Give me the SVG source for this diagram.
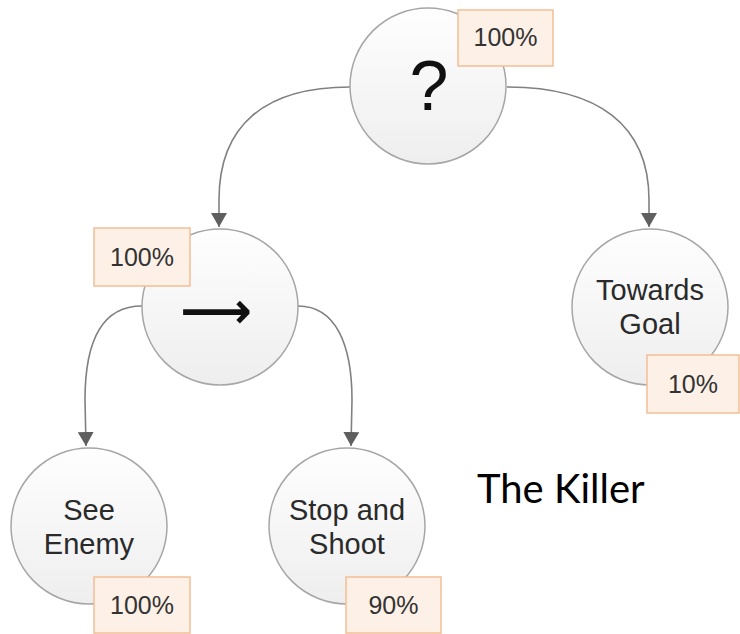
<svg xmlns="http://www.w3.org/2000/svg" width="740" height="634" viewBox="0 0 740 634">
<style>
.node{fill:url(#g);stroke:#a6a6a6;stroke-width:1.5}
.lbl{fill:#fdf0e6;stroke:#f3bf95;stroke-width:1.5}
.t{font-family:"Liberation Sans",Arial,sans-serif;font-size:29px;fill:#2a2a2a;text-anchor:middle}
.p{font-family:"Liberation Sans",Arial,sans-serif;font-size:25px;fill:#333;text-anchor:middle}
.c{fill:none;stroke:#808080;stroke-width:1.6}
</style>
<defs>
<linearGradient id="g" x1="0" y1="0" x2="0" y2="1">
<stop offset="0" stop-color="#fefefe"/>
<stop offset="1" stop-color="#eeeeee"/>
</linearGradient>
<marker id="a" markerWidth="16" markerHeight="16" refX="14" refY="8" orient="auto" markerUnits="userSpaceOnUse">
<path d="M0,0 L14,8 L0,16 Z" fill="#5f5f5f"/>
</marker>
</defs>
<g id="connectors">
<path class="c" d="M350,87 C265,87 219,125 219,200 L219,227" marker-end="url(#a)"/>
<path class="c" d="M507,87 C598,87 649,125 649,200 L649,227" marker-end="url(#a)"/>
<path class="c" d="M142,306 C100,306 85,345 85,400 L86,446" marker-end="url(#a)"/>
<path class="c" d="M298,306 C336,306 352,345 352,400 L351,446" marker-end="url(#a)"/>
</g>
<g id="selector">
<circle class="node" cx="428" cy="86" r="78"/>
<text x="429" y="110" font-family="Liberation Sans,Arial,sans-serif" font-size="70" fill="#111" text-anchor="middle">?</text>
<rect class="lbl" x="458" y="10" width="95" height="56"/>
<text class="p" x="505.5" y="46">100%</text>
</g>
<g id="sequence">
<circle class="node" cx="220" cy="307" r="78"/>
<text x="216" y="328" font-family="DejaVu Sans,sans-serif" font-size="50" font-weight="bold" fill="#111" text-anchor="middle">⟶</text>
<rect class="lbl" x="94" y="228" width="96" height="58"/>
<text class="p" x="142" y="266">100%</text>
</g>
<g id="towards-goal">
<circle class="node" cx="650" cy="307" r="78"/>
<text class="t" x="650" y="300">Towards</text>
<text class="t" x="650" y="334">Goal</text>
<rect class="lbl" x="647" y="355" width="92" height="58"/>
<text class="p" x="693" y="393">10%</text>
</g>
<g id="see-enemy">
<circle class="node" cx="89" cy="526" r="78"/>
<text class="t" x="89" y="520">See</text>
<text class="t" x="89" y="554">Enemy</text>
<rect class="lbl" x="94" y="577" width="96" height="56"/>
<text class="p" x="142" y="614">100%</text>
</g>
<g id="stop-and-shoot">
<circle class="node" cx="347" cy="526" r="78"/>
<text class="t" x="347" y="520">Stop and</text>
<text class="t" x="347" y="554">Shoot</text>
<rect class="lbl" x="346" y="577" width="95" height="56"/>
<text class="p" x="393.5" y="614">90%</text>
</g>
<text x="477" y="503" font-family="Lato,'Open Sans',sans-serif" font-size="40" fill="#000">The Killer</text>
</svg>
